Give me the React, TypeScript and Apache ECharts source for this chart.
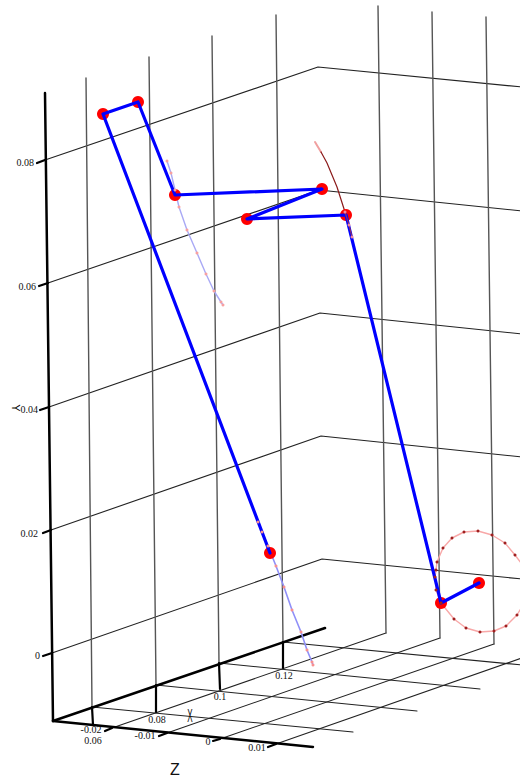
import React, { useEffect, useRef } from "react";
import * as echarts from "echarts";

type Pt = [number, number];

const yTickLabels = ["0", "0.02", "0.04", "0.06", "0.08"];
const xTickLabels = ["0.06", "0.08", "0.1", "0.12"];
const zTickLabels = ["-0.02", "-0.01", "0", "0.01"];

const yAxisLine: Pt[] = [[53, 721], [45, 93]];
const xAxisLine: Pt[] = [[53, 721], [325, 628]];
const zAxisLine: Pt[] = [[53, 721], [313, 747]];

const yTickMarks: Pt[][] = [
  [[43, 656], [52, 653]],
  [[43, 533], [51, 530]],
  [[40, 410], [49, 407]],
  [[39, 286], [48, 283]],
  [[37, 163], [45, 160]],
];
const xTickMarks: Pt[][] = [
  [[92, 707], [93, 725]],
  [[156, 685], [156, 712]],
  [[219, 663], [220, 689]],
  [[283, 642], [283, 668]],
];
const zTickMarks: Pt[][] = [
  [[105, 731], [112, 728]],
  [[159, 736], [167, 733]],
  [[213, 741], [220, 739]],
  [[268, 747], [276, 744]],
];

const yLevelLines: Pt[][] = [
  [[52, 653], [322, 559], [522, 579]],
  [[51, 530], [321, 436], [522, 457]],
  [[49, 407], [320, 313], [522, 334]],
  [[48, 283], [319, 190], [522, 211]],
  [[45, 160], [318, 67], [522, 87]],
];
const xWallVerticals: Pt[][] = [
  [[92, 707], [86, 78]],
  [[156, 685], [149, 57]],
  [[219, 663], [212, 36]],
  [[283, 642], [276, 15]],
];
const xFloorLines: Pt[][] = [
  [[92, 707], [353, 732]],
  [[156, 685], [417, 711]],
  [[219, 663], [480, 689]],
  [[283, 642], [522, 665]],
];
const zFloorLines: Pt[][] = [
  [[112, 728], [386, 633]],
  [[167, 733], [440, 638]],
  [[220, 739], [494, 644]],
  [[276, 744], [522, 658]],
];
const zWallVerticals: Pt[][] = [
  [[386, 633], [378, 6]],
  [[440, 638], [432, 12]],
  [[494, 644], [486, 17]],
];

const jointPath: Pt[] = [
  [270, 553], [103, 114], [138, 102], [175, 195], [322, 189],
  [247, 219], [346, 215], [441, 603], [479, 583],
];

const traceUpper: Pt[] = [
  [167, 161], [171, 173], [175, 190], [179, 207], [187, 230],
  [197, 253], [206, 274], [214, 291], [221, 302], [223, 305],
];
const traceLower: Pt[] = [
  [258, 522], [262, 532], [268, 546], [276, 566], [284, 587],
  [292, 610], [301, 632], [307, 650], [312, 662], [313, 665],
];
const traceDarkHead: Pt[] = [[315, 142], [321, 152]];
const traceDark: Pt[] = [[321, 152], [327, 163], [337, 187], [345, 212]];
const traceDarkTail: Pt[] = [[345, 212], [349, 225], [352, 237]];
const traceCircle: Pt[] = [
  [441, 603], [436, 590], [435, 577], [436, 570], [437, 562], [443, 548],
  [452, 538], [464, 532], [478, 531], [492, 535], [505, 543], [515, 555],
  [524, 567], [529, 582], [526, 600], [517, 615], [506, 626], [494, 631],
  [480, 632], [466, 628], [454, 619], [441, 603],
];

const line = (data: Pt[], color: string, width: number, z: number) => ({
  type: "line",
  data,
  z,
  silent: true,
  showSymbol: false,
  symbol: "none",
  smooth: false,
  lineStyle: { color, width, cap: "round", join: "round", opacity: 1 },
});
const dots = (data: Pt[], color: string, size: number, z: number) => ({
  type: "scatter",
  data,
  z,
  silent: true,
  symbol: "circle",
  symbolSize: size,
  itemStyle: { color, opacity: 1 },
});

const yLabelAt: Pt[] = [[40, 655], [38, 533], [38, 409], [36, 286], [34, 162]];
const xLabelAt: Pt[] = [[93, 740], [157, 719], [220, 696], [284, 675]];
const zLabelAt: Pt[] = [[91, 729], [145, 735], [208, 741], [257, 747]];

const tickText = (labels: string[], at: Pt[], align: string) =>
  labels.map((text, i) => ({
    type: "text",
    x: at[i][0],
    y: at[i][1],
    z: 60,
    style: {
      text,
      fill: "#111",
      font: '10px "Liberation Serif"',
      align,
      verticalAlign: "middle",
    },
  }));

export default function App() {
  const ref = useRef<HTMLDivElement>(null);
  useEffect(() => {
    document.body.style.margin = "0";
    const chart = echarts.init(ref.current!, undefined, { renderer: "svg" });
    chart.setOption({
      animation: false,
      backgroundColor: "#fff",
      grid: { left: 0, right: 0, top: 0, bottom: 0 },
      xAxis: { type: "value", min: 0, max: 520, show: false },
      yAxis: { type: "value", min: 0, max: 780, inverse: true, show: false },
      series: [
        ...[...yLevelLines, ...xFloorLines, ...zFloorLines].map((l) => line(l, "#222", 1.1, 1)),
        ...[...xWallVerticals, ...zWallVerticals].map((l) => line(l, "#555", 1.4, 1)),
        ...[yAxisLine, xAxisLine, zAxisLine].map((l) => line(l, "#000", 2.5, 2)),
        ...[...yTickMarks, ...xTickMarks, ...zTickMarks].map((l) => line(l, "#000", 2.2, 2)),
        line(traceUpper, "#a9a9f5", 1.4, 3),
        line(traceLower, "#8f8ff8", 1.6, 3),
        line(traceDarkHead, "#f0a0a0", 2, 3),
        line(traceDark, "#8b1a1a", 1.2, 3),
        line(traceCircle, "#f8a8a8", 1.4, 3),
        dots(jointPath, "#ff0000", 12, 4),
        line(jointPath, "#0000ff", 3.2, 5),
        line(traceDarkTail, "#8b2a6a", 1.2, 6),
        dots(traceUpper, "#f8a0a0", 3, 6),
        dots(traceLower, "#f89090", 3, 6),
        dots(traceDarkTail, "#f08aa0", 3, 6),
        dots(traceCircle, "#a02020", 3, 6),
      ],
      graphic: [
        ...tickText(yTickLabels, yLabelAt, "right"),
        ...tickText(xTickLabels, xLabelAt, "center"),
        ...tickText(zTickLabels, zLabelAt, "center"),
        {
          type: "text", x: 190, y: 716, z: 60, scaleX: 0.45,
          style: { text: "X", fill: "#111", font: '18px "Liberation Sans"', align: "center", verticalAlign: "middle" },
        },
        {
          type: "text", x: 16, y: 408, z: 60, rotation: -Math.PI / 2,
          style: { text: "Y", fill: "#000", font: '11px "Liberation Sans"', align: "center", verticalAlign: "middle" },
        },
        {
          type: "text", x: 175, y: 769, z: 60,
          style: { text: "Z", fill: "#111", font: '16px "Liberation Sans"', align: "center", verticalAlign: "middle" },
        },
      ],
    });
    return () => chart.dispose();
  }, []);
  return <div ref={ref} style={{ width: 520, height: 780 }} />;
}
